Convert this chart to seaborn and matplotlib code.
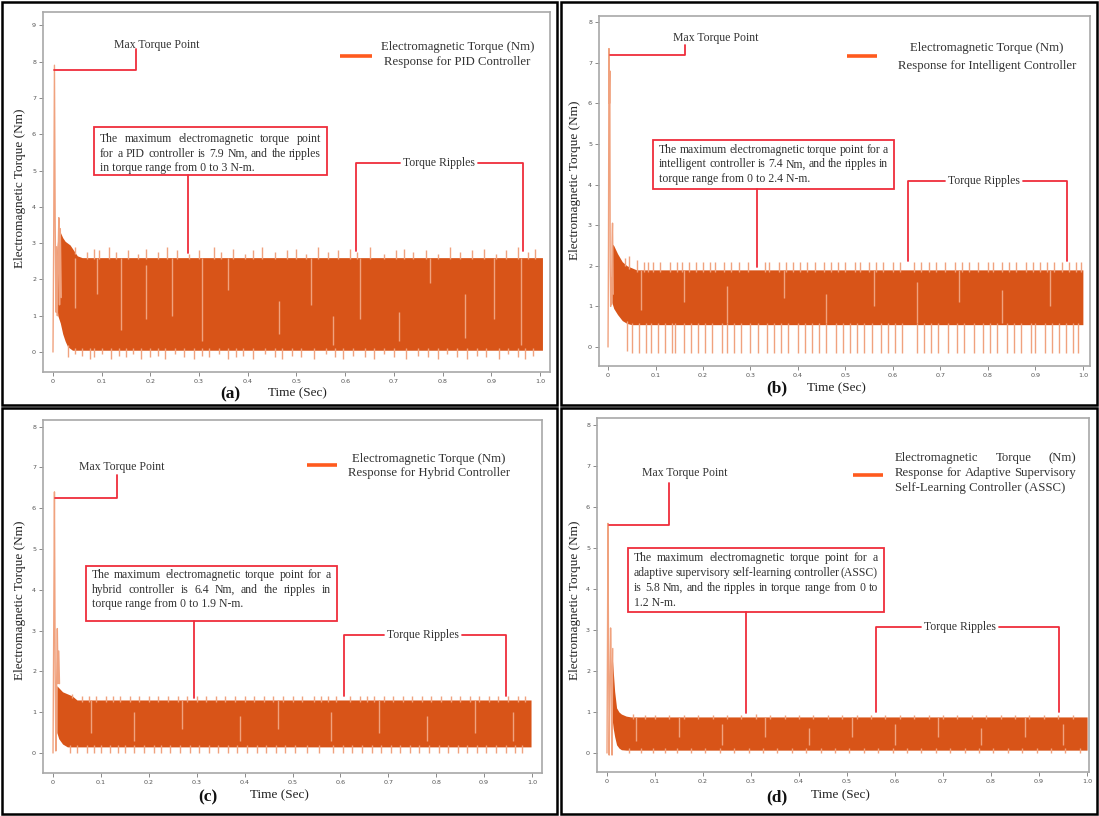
import numpy as np
import matplotlib
matplotlib.use("Agg")
import matplotlib.pyplot as plt
import seaborn as sns
from matplotlib.patches import Rectangle
from matplotlib.transforms import Affine2D

sns.set_theme(style="white")
plt.rcParams['font.family'] = ['Liberation Serif', 'DejaVu Serif']

# ---------------------------------------------------------------- data
# (a) PID controller
pid_start_t = [0.0, 0.0015, 0.003, 0.0045, 0.006, 0.0075, 0.009, 0.0105, 0.012, 0.0135, 0.015, 0.017]
pid_start_v = [0.0, 3.2, 7.9, 3.6, 1.1, 2.9, 1.0, 2.6, 3.7, 1.3, 3.4, 1.5]
pid_band_t = [0.007, 0.01, 0.015, 0.02, 0.025, 0.03, 0.035, 0.04, 0.05, 0.06, 1.005]
pid_band_hi = [2.6, 3.2, 3.3, 3.15, 3.05, 3.0, 2.95, 2.85, 2.65, 2.6, 2.6]
pid_band_lo = [1.4, 1.0, 0.8, 0.5, 0.3, 0.15, 0.1, 0.05, 0.05, 0.05, 0.05]
pid_peaks = [(0.045, 2.9), (0.07, 2.75), (0.085, 2.85), (0.095, 2.8), (0.115, 2.9), (0.13, 2.75),
             (0.155, 2.8), (0.175, 2.7), (0.19, 2.85), (0.215, 2.75), (0.235, 2.9), (0.255, 2.8),
             (0.28, 2.7), (0.30, 2.8), (0.33, 2.9), (0.345, 2.75), (0.37, 2.85), (0.395, 2.7),
             (0.41, 2.8), (0.43, 2.9), (0.455, 2.75), (0.48, 2.8), (0.50, 2.85), (0.52, 2.7),
             (0.545, 2.9), (0.565, 2.75), (0.585, 2.8), (0.61, 2.85), (0.625, 2.75), (0.65, 2.9),
             (0.68, 2.7), (0.705, 2.8), (0.72, 2.85), (0.74, 2.75), (0.765, 2.8), (0.79, 2.7),
             (0.815, 2.9), (0.835, 2.75), (0.86, 2.8), (0.885, 2.85), (0.91, 2.7), (0.93, 2.8),
             (0.955, 2.9), (0.975, 2.75), (0.99, 2.85)]
pid_dips = [(0.03, -0.15), (0.045, -0.05), (0.06, -0.1), (0.075, -0.2), (0.085, -0.15), (0.10, -0.05),
            (0.12, -0.2), (0.135, -0.1), (0.15, -0.15), (0.165, -0.05), (0.18, -0.2), (0.20, -0.15),
            (0.215, -0.1), (0.23, -0.2), (0.25, -0.05), (0.27, -0.15), (0.29, -0.2), (0.305, -0.1),
            (0.32, -0.15), (0.34, -0.05), (0.36, -0.2), (0.375, -0.15), (0.39, -0.1), (0.41, -0.2),
            (0.435, -0.05), (0.455, -0.15), (0.47, -0.2), (0.49, -0.1), (0.51, -0.15), (0.535, -0.2),
            (0.56, -0.05), (0.58, -0.15), (0.595, -0.2), (0.615, -0.1), (0.64, -0.15), (0.66, -0.2),
            (0.68, -0.05), (0.70, -0.15), (0.725, -0.2), (0.75, -0.1), (0.77, -0.15), (0.79, -0.2),
            (0.81, -0.05), (0.83, -0.15), (0.85, -0.2), (0.87, -0.1), (0.89, -0.15), (0.915, -0.2),
            (0.935, -0.05), (0.955, -0.15), (0.97, -0.2), (0.985, -0.1)]
pid_streaks = [(0.045, 1.2, 2.6), (0.09, 1.6, 2.6), (0.14, 0.6, 2.6), (0.19, 0.9, 2.4), (0.245, 1.0, 2.6),
               (0.305, 0.3, 2.6), (0.36, 1.7, 2.6), (0.465, 0.5, 1.4), (0.53, 1.3, 2.6), (0.575, 0.2, 1.0),
               (0.63, 0.9, 2.6), (0.71, 0.3, 1.1), (0.775, 1.9, 2.6), (0.845, 0.4, 1.6), (0.905, 0.9, 2.6),
               (0.96, 0.2, 2.6)]

# (b) intelligent controller
int_start_t = [0.0, 0.001, 0.002, 0.003, 0.0038, 0.0046, 0.0055, 0.0065, 0.0075, 0.0085, 0.0095, 0.011]
int_start_v = [0.0, 2.5, 7.35, 6.0, 6.8, 2.0, 1.0, 1.7, 1.05, 2.6, 3.05, 1.3]
int_band_t = [0.008, 0.012, 0.02, 0.03, 0.04, 0.05, 0.06, 1.0]
int_band_hi = [2.55, 2.5, 2.3, 2.1, 2.0, 1.95, 1.9, 1.9]
int_band_lo = [1.1, 0.95, 0.8, 0.65, 0.58, 0.55, 0.55, 0.55]
int_peaks = [(0.035, 2.2), (0.045, 2.25), (0.06, 2.15), (0.075, 2.1), (0.085, 2.1), (0.095, 2.1),
             (0.11, 2.1), (0.13, 2.1), (0.145, 2.1), (0.155, 2.1), (0.17, 2.1), (0.185, 2.1),
             (0.20, 2.1), (0.215, 2.1), (0.225, 2.1), (0.245, 2.1), (0.26, 2.1), (0.275, 2.1),
             (0.295, 2.1), (0.33, 2.1), (0.34, 2.1), (0.36, 2.1), (0.375, 2.1), (0.39, 2.1),
             (0.405, 2.1), (0.42, 2.1), (0.435, 2.1), (0.455, 2.1), (0.47, 2.1), (0.485, 2.1),
             (0.50, 2.1), (0.52, 2.1), (0.53, 2.1), (0.55, 2.1), (0.565, 2.1), (0.58, 2.1),
             (0.60, 2.1), (0.615, 2.1), (0.645, 2.1), (0.66, 2.1), (0.675, 2.1), (0.69, 2.1),
             (0.71, 2.1), (0.73, 2.1), (0.745, 2.1), (0.76, 2.1), (0.78, 2.1), (0.80, 2.1),
             (0.81, 2.1), (0.83, 2.1), (0.845, 2.1), (0.86, 2.1), (0.88, 2.1), (0.895, 2.1),
             (0.91, 2.1), (0.925, 2.1), (0.94, 2.1), (0.955, 2.1), (0.97, 2.1), (0.985, 2.1),
             (0.995, 2.1)]
int_dips = [(0.04, -0.1), (0.05, -0.15), (0.065, -0.15), (0.08, -0.15), (0.09, -0.15), (0.105, -0.15),
            (0.12, -0.15), (0.135, -0.15), (0.14, -0.15), (0.16, -0.15), (0.175, -0.15), (0.19, -0.15),
            (0.205, -0.15), (0.22, -0.15), (0.24, -0.15), (0.25, -0.15), (0.265, -0.15), (0.28, -0.15),
            (0.30, -0.15), (0.315, -0.15), (0.335, -0.15), (0.35, -0.15), (0.365, -0.15), (0.38, -0.15),
            (0.40, -0.15), (0.415, -0.15), (0.43, -0.15), (0.445, -0.15), (0.46, -0.15), (0.48, -0.15),
            (0.495, -0.15), (0.51, -0.15), (0.525, -0.15), (0.54, -0.15), (0.555, -0.15), (0.575, -0.15),
            (0.59, -0.15), (0.605, -0.15), (0.62, -0.15), (0.65, -0.15), (0.665, -0.15), (0.68, -0.15),
            (0.695, -0.15), (0.715, -0.15), (0.735, -0.15), (0.75, -0.15), (0.77, -0.15), (0.79, -0.15),
            (0.805, -0.15), (0.82, -0.15), (0.84, -0.15), (0.855, -0.15), (0.87, -0.15), (0.89, -0.15),
            (0.90, -0.15), (0.92, -0.15), (0.935, -0.15), (0.95, -0.15), (0.965, -0.15), (0.98, -0.15),
            (0.99, -0.15)]
int_streaks = [(0.07, 0.9, 1.9), (0.16, 1.1, 1.9), (0.25, 0.6, 1.5), (0.37, 1.2, 1.9), (0.46, 0.6, 1.3),
               (0.56, 1.0, 1.9), (0.65, 0.6, 1.6), (0.74, 1.1, 1.9), (0.83, 0.6, 1.4), (0.93, 1.0, 1.9)]

# (c) hybrid controller
hyb_start_t = [0.0, 0.0015, 0.003, 0.0045, 0.006, 0.0075, 0.009, 0.0105, 0.012, 0.0135]
hyb_start_v = [0.0, 3.0, 6.4, 2.0, 0.05, 1.6, 3.05, 1.7, 2.5, 1.7]
hyb_band_t = [0.008, 0.012, 0.02, 0.03, 0.04, 0.05, 0.998]
hyb_band_hi = [1.65, 1.6, 1.5, 1.45, 1.4, 1.3, 1.3]
hyb_band_lo = [0.5, 0.35, 0.22, 0.15, 0.15, 0.15, 0.15]
hyb_peaks = [(0.04, 1.45), (0.06, 1.4), (0.075, 1.4), (0.09, 1.4), (0.11, 1.4), (0.125, 1.4),
             (0.14, 1.4), (0.16, 1.4), (0.18, 1.4), (0.2, 1.4), (0.22, 1.4), (0.24, 1.4),
             (0.26, 1.4), (0.28, 1.4), (0.3, 1.4), (0.32, 1.4), (0.34, 1.4), (0.36, 1.4),
             (0.38, 1.4), (0.4, 1.4), (0.42, 1.4), (0.44, 1.4), (0.46, 1.4), (0.48, 1.4),
             (0.5, 1.4), (0.52, 1.4), (0.545, 1.4), (0.56, 1.4), (0.575, 1.4), (0.59, 1.4),
             (0.62, 1.4), (0.64, 1.4), (0.655, 1.4), (0.67, 1.4), (0.69, 1.4), (0.71, 1.4),
             (0.73, 1.4), (0.75, 1.4), (0.77, 1.4), (0.79, 1.4), (0.81, 1.4), (0.83, 1.4),
             (0.85, 1.4), (0.87, 1.4), (0.89, 1.4), (0.91, 1.4), (0.93, 1.4), (0.95, 1.4),
             (0.97, 1.4), (0.985, 1.4)]
hyb_dips = [(0.035, 0.0), (0.05, 0.0), (0.07, 0.0), (0.085, 0.0), (0.10, 0.0), (0.12, 0.0),
            (0.135, 0.0), (0.15, 0.0), (0.17, 0.0), (0.19, 0.0), (0.21, 0.0), (0.225, 0.0),
            (0.245, 0.0), (0.265, 0.0), (0.285, 0.0), (0.305, 0.0), (0.325, 0.0), (0.345, 0.0),
            (0.365, 0.0), (0.385, 0.0), (0.405, 0.0), (0.425, 0.0), (0.445, 0.0), (0.465, 0.0),
            (0.485, 0.0), (0.505, 0.0), (0.53, 0.0), (0.555, 0.0), (0.585, 0.0), (0.605, 0.0),
            (0.625, 0.0), (0.645, 0.0), (0.665, 0.0), (0.685, 0.0), (0.705, 0.0), (0.725, 0.0),
            (0.745, 0.0), (0.765, 0.0), (0.785, 0.0), (0.805, 0.0), (0.825, 0.0), (0.845, 0.0),
            (0.865, 0.0), (0.885, 0.0), (0.905, 0.0), (0.925, 0.0), (0.945, 0.0), (0.965, 0.0),
            (0.98, 0.0)]
hyb_streaks = [(0.08, 0.5, 1.3), (0.17, 0.3, 1.0), (0.27, 0.6, 1.3), (0.39, 0.3, 0.9), (0.47, 0.6, 1.3),
               (0.58, 0.3, 1.0), (0.68, 0.5, 1.3), (0.78, 0.3, 0.9), (0.88, 0.5, 1.3), (0.96, 0.3, 1.0)]

# (d) adaptive supervisory self-learning controller
assc_start_t = [0.0, 0.001, 0.002, 0.003, 0.0045, 0.006, 0.0075, 0.009, 0.0105, 0.012]
assc_start_v = [0.0, 2.5, 5.6, 3.0, -0.05, 1.3, 3.05, 2.0, -0.05, 2.55]
assc_band_t = [0.01, 0.013, 0.016, 0.02, 0.025, 0.03, 0.04, 0.05, 1.0]
assc_band_hi = [2.5, 2.0, 1.5, 1.1, 1.0, 0.95, 0.9, 0.88, 0.88]
assc_band_lo = [0.9, 0.6, 0.4, 0.2, 0.12, 0.08, 0.07, 0.07, 0.07]
assc_peaks = [(0.055, 0.95), (0.08, 0.93), (0.1, 0.93), (0.13, 0.93), (0.16, 0.93), (0.19, 0.93),
              (0.22, 0.93), (0.25, 0.93), (0.28, 0.93), (0.31, 0.95), (0.34, 0.93), (0.37, 0.93),
              (0.4, 0.93), (0.43, 0.93), (0.46, 0.93), (0.49, 0.93), (0.52, 0.93), (0.55, 0.93),
              (0.58, 0.93), (0.61, 0.93), (0.64, 0.93), (0.67, 0.93), (0.7, 0.93), (0.73, 0.93),
              (0.76, 0.93), (0.79, 0.93), (0.82, 0.93), (0.85, 0.93), (0.88, 0.93), (0.91, 0.93),
              (0.94, 0.93), (0.97, 0.93)]
assc_dips = [(0.045, 0.0), (0.07, 0.0), (0.095, 0.0), (0.12, 0.0), (0.145, 0.0), (0.175, 0.0),
             (0.205, 0.0), (0.235, 0.0), (0.265, 0.0), (0.295, 0.0), (0.325, 0.0), (0.355, 0.0),
             (0.385, 0.0), (0.415, 0.0), (0.445, 0.0), (0.475, 0.0), (0.505, 0.0), (0.535, 0.0),
             (0.565, 0.0), (0.595, 0.0), (0.625, 0.0), (0.655, 0.0), (0.685, 0.0), (0.715, 0.0),
             (0.745, 0.0), (0.775, 0.0), (0.805, 0.0), (0.835, 0.0), (0.865, 0.0), (0.895, 0.0),
             (0.925, 0.0), (0.955, 0.0), (0.985, 0.0)]
assc_streaks = [(0.06, 0.3, 0.88), (0.15, 0.4, 0.88), (0.24, 0.2, 0.7), (0.33, 0.4, 0.88), (0.42, 0.2, 0.6),
                (0.51, 0.4, 0.88), (0.6, 0.2, 0.7), (0.69, 0.4, 0.88), (0.78, 0.2, 0.6), (0.87, 0.4, 0.88),
                (0.95, 0.2, 0.7)]

x_ticks = [0.0, 0.1, 0.2, 0.3, 0.4, 0.5, 0.6, 0.7, 0.8, 0.9, 1.0]
x_tick_labels = ['0', '0.1', '0.2', '0.3', '0.4', '0.5', '0.6', '0.7', '0.8', '0.9', '1.0']

pid_note = ["The maximum electromagnetic torque point",
            "for a PID controller is 7.9 Nm, and the ripples",
            "in torque range from 0 to 3 N-m."]
int_note = ["The maximum electromagnetic torque point for a",
            "intelligent controller is 7.4 Nm, and the ripples in",
            "torque range from 0 to 2.4 N-m."]
hyb_note = ["The maximum electromagnetic torque point for a",
            "hybrid controller is 6.4 Nm, and the ripples in",
            "torque range from 0 to 1.9 N-m."]
assc_note = ["The maximum electromagnetic torque point for a",
             "adaptive supervisory self-learning controller (ASSC)",
             "is 5.8 Nm, and the ripples in torque range from 0 to",
             "1.2 N-m."]
pid_key = ["Electromagnetic Torque (Nm)", "Response for PID Controller"]
int_key = ["Electromagnetic Torque (Nm)", "Response for Intelligent Controller"]
hyb_key = ["Electromagnetic Torque (Nm)", "Response for Hybrid Controller"]
assc_key = ["Electromagnetic Torque (Nm)", "Response for Adaptive Supervisory",
            "Self-Learning Controller (ASSC)"]

# ---------------------------------------------------------------- styling
BAND = '#D85418'
THIN = '#F0A27E'
KEY = '#FF5A1E'
RED = '#EF2D3C'
INK = '#333333'
ANN = 8.5
KEYSIZE = 9.2
LABSIZE = 9.5

W, H = 1099, 816
fig = plt.figure(figsize=(W / 100, H / 100), dpi=100)
fig.patch.set_facecolor('white')
PX = Affine2D().scale(1 / W, -1 / H).translate(0, 1) + fig.transFigure
RENDERER = fig.canvas.get_renderer()


def to_px(ax, x, y):
    dx, dy = ax.transData.transform((x, y))
    return dx, H - dy


def text_block(lines, left, right, ys, size, mode):
    for i, (line, y) in enumerate(zip(lines, ys)):
        words = line.split()
        last = i == len(lines) - 1
        if mode == 'justify' and not last and len(words) > 1:
            arts = [fig.text(0, 0, w, transform=PX, fontsize=size, color=INK, va='center', ha='left')
                    for w in words]
            widths = [a.get_window_extent(RENDERER).width for a in arts]
            gap = (right - left - sum(widths)) / (len(words) - 1)
            x = left
            for a, w in zip(arts, widths):
                a.set_position((x, y))
                x += w + gap
        elif mode == 'center':
            fig.text((left + right) / 2, y, line, transform=PX, fontsize=size, color=INK,
                     va='center', ha='center')
        else:
            fig.text(left, y, line, transform=PX, fontsize=size, color=INK, va='center', ha='left')


panels = [
    dict(cell=(2, 2, 557, 405), frame=(43, 12, 550, 372), xlim=(-0.0205, 1.0205), ylim=(-0.55, 9.366),
         yticks=list(range(10)), letter='(a)',
         start=(pid_start_t, pid_start_v), band=(pid_band_t, pid_band_hi, pid_band_lo),
         peaks=pid_peaks, dips=pid_dips, streaks=pid_streaks,
         ylab=(20, 188), xlab=(297, 393), let=(230, 394),
         max_from=(0.003, 7.77), max_corner=0.17, max_top=8.35, max_label=(0.214, 8.46),
         box=(0.084, 0.563, 6.2, 4.88), note=pid_note, note_y=[5.87, 5.45, 5.07], link=(0.277, 2.73),
         rip=(0.622, 0.965, 5.2, 2.78, 0.793),
         key=pid_key, key_line=(0.589, 0.655, 8.15), key_x=(0.66, 1.0), key_y=[8.4, 7.99], key_mode='center'),
    dict(cell=(561, 2, 1097, 405), frame=(599, 16, 1090, 366), xlim=(-0.019, 1.015), ylim=(-0.468, 8.153),
         yticks=list(range(9)), letter='(b)',
         start=(int_start_t, int_start_v), band=(int_band_t, int_band_hi, int_band_lo),
         peaks=int_peaks, dips=int_dips, streaks=int_streaks,
         ylab=(575, 180), xlab=(836, 388), let=(777, 388),
         max_from=(0.004, 7.19), max_corner=0.162, max_top=7.44, max_label=(0.227, 7.61),
         box=(0.095, 0.602, 5.1, 3.89), note=int_note, note_y=[4.85, 4.5, 4.14], link=(0.314, 1.97),
         rip=(0.632, 0.966, 4.09, 2.12, 0.792),
         key=int_key, key_line=(0.503, 0.566, 7.17), key_x=(0.63, 0.966), key_y=[7.36, 6.92], key_mode='center'),
    dict(cell=(2, 408, 557, 814), frame=(43, 420, 542, 773), xlim=(-0.0209, 1.0209), ylim=(-0.49, 8.162),
         yticks=list(range(9)), letter='(c)',
         start=(hyb_start_t, hyb_start_v), band=(hyb_band_t, hyb_band_hi, hyb_band_lo),
         peaks=hyb_peaks, dips=hyb_dips, streaks=hyb_streaks,
         ylab=(20, 600), xlab=(279, 795), let=(208, 797),
         max_from=(0.004, 6.25), max_corner=0.134, max_top=6.81, max_label=(0.143, 7.01),
         box=(0.069, 0.593, 4.58, 3.24), note=hyb_note, note_y=[4.36, 4.0, 3.65], link=(0.294, 1.35),
         rip=(0.607, 0.946, 2.89, 1.4, 0.772),
         key=hyb_key, key_line=(0.53, 0.593, 7.06), key_x=(0.63, 0.94), key_y=[7.2, 6.86], key_mode='center'),
    dict(cell=(561, 408, 1097, 814), frame=(597, 418, 1089, 772), xlim=(-0.0208, 1.004), ylim=(-0.463, 8.171),
         yticks=list(range(9)), letter='(d)',
         start=(assc_start_t, assc_start_v), band=(assc_band_t, assc_band_hi, assc_band_lo),
         peaks=assc_peaks, dips=assc_dips, streaks=assc_streaks,
         ylab=(575, 600), xlab=(840, 795), let=(777, 797),
         max_from=(0.005, 5.56), max_corner=0.129, max_top=6.59, max_label=(0.161, 6.83),
         box=(0.044, 0.577, 5.0, 3.44), note=assc_note, note_y=[4.76, 4.39, 4.03, 3.67], link=(0.29, 0.98),
         rip=(0.56, 0.942, 3.07, 1.0, 0.735),
         key=assc_key, key_line=(0.512, 0.575, 6.78), key_x=(0.6, 0.977), key_y=[7.2, 6.83, 6.46],
         key_mode='justify'),
]

for p in panels:
    # outer cell border
    cl, ct, cr, cb = p['cell']
    fig.add_artist(Rectangle((cl, cb), cr - cl, ct - cb, transform=PX, fill=False,
                             ec='black', lw=1.8))

    l, t, r, b = p['frame']
    ax = fig.add_axes([l / W, 1 - b / H, (r - l) / W, (b - t) / H])
    ax.set_facecolor('white')
    ax.set_xlim(*p['xlim'])
    ax.set_ylim(*p['ylim'])

    # torque trace: dense ripple band, excursions and start-up transient
    bt, bhi, blo = p['band']
    ax.fill_between(bt, blo, bhi, color=BAND, lw=0, zorder=2)
    st, slo, shi = zip(*p['streaks'])
    ax.vlines(st, slo, shi, color=THIN, lw=1.0, zorder=3)
    pt, pv = zip(*p['peaks'])
    ax.vlines(pt, np.interp(pt, bt, bhi) - 0.05, pv, color=THIN, lw=1.0, zorder=3)
    dt, dv = zip(*p['dips'])
    ax.vlines(dt, dv, np.interp(dt, bt, blo) + 0.05, color=THIN, lw=1.0, zorder=3)
    sns.lineplot(x=p['start'][0], y=p['start'][1], ax=ax, color=THIN, lw=1.0,
                 sort=False, estimator=None, zorder=3)
    ax.set_xlabel('')
    ax.set_ylabel('')

    ax.set_xticks(x_ticks)
    ax.set_xticklabels(x_tick_labels)
    ax.set_yticks(p['yticks'])
    ax.set_yticklabels([str(v) for v in p['yticks']])
    ax.tick_params(axis='both', length=3, width=0.7, color='#8a8a8a', labelsize=4.6,
                   labelcolor='#555555', pad=2, bottom=True, left=True)
    for lab in ax.get_xticklabels() + ax.get_yticklabels():
        lab.set_fontfamily('DejaVu Sans')
    for s in ax.spines.values():
        s.set_color('#a8a8a8')
        s.set_linewidth(1.2)

    # axis titles and panel letter
    fig.text(*p['ylab'], 'Electromagnetic Torque (Nm)', transform=PX, rotation=90,
             ha='center', va='center', fontsize=LABSIZE, color='#222222')
    fig.text(*p['xlab'], 'Time (Sec)', transform=PX, ha='center', va='center',
             fontsize=LABSIZE, color='#222222')
    fig.text(*p['let'], p['letter'], transform=PX, ha='center', va='center',
             fontsize=12.5, fontweight='bold', color='#111111')

    # max torque callout
    mx, my = p['max_from']
    ax.plot([mx, p['max_corner'], p['max_corner']], [my, my, p['max_top']], color=RED, lw=1.3,
            clip_on=False, zorder=5)
    lx, ly = to_px(ax, *p['max_label'])
    fig.text(lx, ly, 'Max Torque Point', transform=PX, ha='center', va='center',
             fontsize=ANN, color=INK)

    # note box with link to the ripple band
    x0, x1, y0, y1 = p['box']
    ax.add_patch(Rectangle((x0, y1), x1 - x0, y0 - y1, fill=False, ec=RED, lw=1.3,
                           clip_on=False, zorder=5))
    ax.plot([p['link'][0]] * 2, [y1, p['link'][1]], color=RED, lw=1.3, clip_on=False, zorder=5)
    bl, _ = to_px(ax, x0, y0)
    br, _ = to_px(ax, x1, y0)
    ys = [to_px(ax, 0, yy)[1] for yy in p['note_y']]
    text_block(p['note'], bl + 6, br - 6, ys, ANN, 'justify')

    # torque ripple bracket
    xl, xr, yr, yend, cx = p['rip']
    px_, py_ = to_px(ax, cx, yr)
    rt = fig.text(px_, py_, 'Torque Ripples', transform=PX, ha='center', va='center',
                  fontsize=ANN, color=INK)
    w = rt.get_window_extent(RENDERER).width
    inv = ax.transData.inverted()
    dcx = ax.transData.transform((cx, yr))[0]
    tl = inv.transform((dcx - w / 2 - 3, 0))[0]
    tr = inv.transform((dcx + w / 2 + 3, 0))[0]
    ax.plot([xl, xl, tl], [yend, yr, yr], color=RED, lw=1.3, clip_on=False, zorder=5)
    ax.plot([tr, xr, xr], [yr, yr, yend], color=RED, lw=1.3, clip_on=False, zorder=5)

    # key
    k0, k1, ky = p['key_line']
    ax.plot([k0, k1], [ky, ky], color=KEY, lw=2.6, solid_capstyle='butt', zorder=5)
    kl, _ = to_px(ax, p['key_x'][0], 0)
    kr, _ = to_px(ax, p['key_x'][1], 0)
    kys = [to_px(ax, 0, yy)[1] for yy in p['key_y']]
    text_block(p['key'], kl, kr, kys, KEYSIZE, p['key_mode'])

fig.savefig('out.png', dpi=100, facecolor='white')
